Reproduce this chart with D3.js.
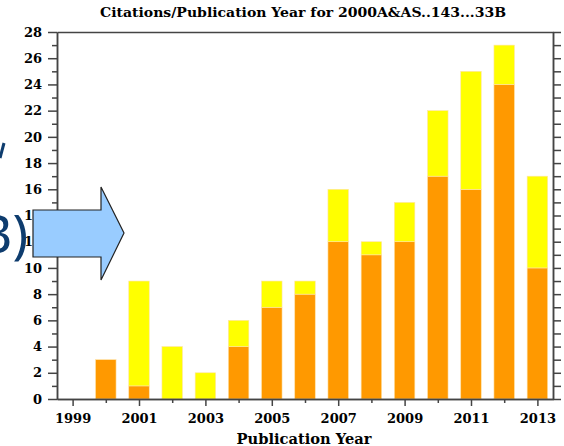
<!DOCTYPE html>
<html><head><meta charset="utf-8">
<script src="https://cdn.jsdelivr.net/npm/d3@7"></script>
<style>
body{margin:0;background:#fff;}
svg{display:block;}
.ax text{font-family:"DejaVu Serif",serif;font-weight:bold;font-size:13px;fill:#000;}
.ax path,.ax line{stroke:#444;stroke-width:1.5;}
</style></head>
<body><svg id="c" width="564" height="446"></svg>
<script>
const years = [1999,2000,2001,2002,2003,2004,2005,2006,2007,2008,2009,2010,2011,2012,2013];
const refereed = [0,3,1,0,0,4,7,8,12,11,12,17,16,24,10];
const nonRefereed = [0,0,8,4,2,2,2,1,4,1,3,5,9,3,7];
const yMajorTicks = [0,2,4,6,8,10,12,14,16,18,20,22,24,26,28];
const yMinorTicks = [1,3,5,7,9,11,13,15,17,19,21,23,25,27];
const xLabelTicks = [1999,2001,2003,2005,2007,2009,2011,2013];
const xMinorTicks = [2000,2002,2004,2006,2008,2010,2012];
const titleText = "Citations/Publication Year for 2000A&AS..143...33B";
const xTitle = "Publication Year";
const colors = {refereed:"#FF9900", nonRefereed:"#FFFF00"};

const svg = d3.select("#c");
const L=57, R=553, T=32, B=399;
const x = d3.scaleLinear().domain([1998.53,2013.47]).range([L,R]);
const y = d3.scaleLinear().domain([0,28]).range([B,T]);
const bw = 20.5;

const table = years.map((yr,i)=>({year:yr, refereed:refereed[i], nonRefereed:nonRefereed[i]}));
const stack = d3.stack().keys(["refereed","nonRefereed"])(table);

svg.append("g").selectAll("g").data(stack).join("g")
  .attr("fill", d=>colors[d.key])
  .selectAll("rect").data(d=>d).join("rect")
  .attr("x", d=>x(d.data.year)-bw/2)
  .attr("width", bw)
  .attr("y", d=>y(d[1]))
  .attr("height", d=>y(d[0])-y(d[1]))
  .attr("stroke","#ffe3a8").attr("stroke-width",0.6)
  .attr("display", d=>d[1]-d[0]>0?null:"none");

// axes
svg.append("g").attr("class","ax").attr("transform",`translate(${L},0)`)
  .call(d3.axisLeft(y).tickValues(yMajorTicks).tickSize(9).tickSizeOuter(0).tickPadding(6).tickFormat(d3.format("d")));
svg.append("g").attr("class","ax").attr("transform",`translate(${L},0)`)
  .call(d3.axisLeft(y).tickValues(yMinorTicks).tickSize(5).tickSizeOuter(0).tickFormat(""));
svg.append("g").attr("class","ax").attr("transform",`translate(${R},0)`)
  .call(d3.axisRight(y).tickValues(yMajorTicks).tickSize(8).tickSizeOuter(0).tickFormat(""));
svg.append("g").attr("class","ax").attr("transform",`translate(${R},0)`)
  .call(d3.axisRight(y).tickValues(yMinorTicks).tickSize(8).tickSizeOuter(0).tickFormat(""));
svg.append("g").attr("class","ax").attr("transform",`translate(0,${B})`)
  .call(d3.axisBottom(x).tickValues(xLabelTicks).tickSize(7).tickSizeOuter(0).tickPadding(8).tickFormat(d3.format("d")));
svg.append("g").attr("class","ax").attr("transform",`translate(0,${B})`)
  .call(d3.axisBottom(x).tickValues(xMinorTicks).tickSize(4).tickSizeOuter(0).tickFormat(""));
svg.append("g").attr("class","ax").attr("transform",`translate(0,${T})`)
  .call(d3.axisTop(x).tickValues([]).tickSizeOuter(0));

svg.append("text").attr("x",303).attr("y",17).attr("text-anchor","middle")
  .attr("font-family","DejaVu Serif").attr("font-weight","bold").attr("font-size",13)
  .attr("textLength",406).attr("lengthAdjust","spacingAndGlyphs").text(titleText);
svg.append("text").attr("x",304).attr("y",444).attr("text-anchor","middle")
  .attr("font-family","DejaVu Serif").attr("font-weight","bold").attr("font-size",14)
  .attr("textLength",135).attr("lengthAdjust","spacingAndGlyphs").text(xTitle);

// slide overlay
svg.append("text").attr("x",28).attr("y",253).attr("text-anchor","end")
  .attr("font-family","Noto Sans").attr("font-size",52).attr("fill","#0E3C6E").text("B)");
svg.append("path").attr("d","M4,143 L0,158").attr("stroke","#0E3C6E").attr("stroke-width",3).attr("fill","none");
svg.append("path")
  .attr("d","M33,210 L101,210 L101,187 L124,233 L101,280 L101,257 L33,257 Z")
  .attr("fill","#99CCFF").attr("stroke","#222").attr("stroke-width",1.2);
</script></body></html>
